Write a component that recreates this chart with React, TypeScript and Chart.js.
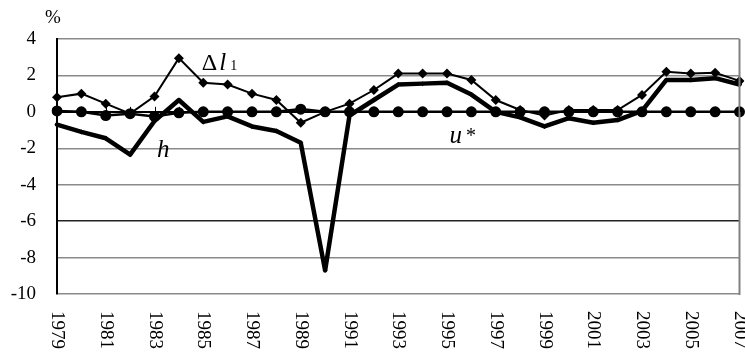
import React, { useEffect, useRef } from "react";
import { Chart, registerables } from "chart.js";

Chart.register(...registerables);

const years = [
  "1979", "1980", "1981", "1982", "1983", "1984", "1985", "1986", "1987", "1988",
  "1989", "1990", "1991", "1992", "1993", "1994", "1995", "1996", "1997", "1998",
  "1999", "2000", "2001", "2002", "2003", "2004", "2005", "2006", "2007",
];
const deltaL1 = [
  0.8, 1.0, 0.45, -0.1, 0.85, 2.95, 1.6, 1.5, 1.0, 0.65, -0.6, 0.0, 0.45, 1.2, 2.1,
  2.1, 2.1, 1.75, 0.65, 0.1, -0.2, 0.1, 0.1, 0.1, 0.93, 2.2, 2.1, 2.15, 1.7,
];
const hValues = [
  -0.7, -1.1, -1.45, -2.35, -0.5, 0.65, -0.55, -0.25, -0.8, -1.05, -1.7, -8.7, -0.2,
  0.65, 1.5, 1.55, 1.6, 0.95, 0.0, -0.3, -0.8, -0.35, -0.6, -0.45, 0.05, 1.75, 1.75,
  1.85, 1.5,
];
const uStar = [
  0.05, 0, -0.2, -0.1, -0.25, -0.05, 0, 0, 0, 0, 0.15, 0, 0, 0, 0, 0, 0, 0, 0, 0, 0,
  0, 0, 0, 0, 0, 0, 0, 0,
];
const yTicks = [4, 2, 0, -2, -4, -6, -8, -10];

const SERIF = "'Liberation Serif', 'Times New Roman', serif";

const decorPlugin = {
  id: "decor",
  afterDatasetsDraw(chart: any) {
    const { ctx, chartArea, scales } = chart;
    const x = scales.x;
    const y = scales.y;
    ctx.save();
    ctx.strokeStyle = "#808080";
    ctx.lineWidth = 2;
    ctx.beginPath();
    ctx.moveTo(chartArea.right, chartArea.top);
    ctx.lineTo(chartArea.right, chartArea.bottom + 1);
    ctx.stroke();
    const y0 = y.getPixelForValue(0);
    ctx.strokeStyle = "#000";
    ctx.lineWidth = 1;
    years.forEach((_, i) => {
      const px = Math.round(x.getPixelForValue(i)) + 0.5;
      ctx.beginPath();
      ctx.moveTo(px, y0 - 5);
      ctx.lineTo(px, y0);
      ctx.stroke();
    });
    ctx.restore();
  },
  afterDraw(chart: any) {
    const { ctx, chartArea, scales } = chart;
    const x = scales.x;
    const y = scales.y;
    ctx.save();
    ctx.fillStyle = "#000";
    ctx.font = `19px ${SERIF}`;
    years.forEach((lab, i) => {
      if (i % 2 !== 0) return;
      const px = x.getPixelForValue(i);
      ctx.save();
      ctx.translate(px, chartArea.bottom + 17);
      ctx.rotate(Math.PI / 2);
      ctx.textAlign = "left";
      ctx.textBaseline = "middle";
      ctx.fillText(lab, 0, 0);
      ctx.restore();
    });
    ctx.font = `19px ${SERIF}`;
    ctx.textAlign = "center";
    ctx.textBaseline = "alphabetic";
    ctx.fillText("%", chartArea.left - 4, chartArea.top - 16);
    ctx.textAlign = "left";
    let lx = x.getPixelForValue(5.94);
    const ly = y.getPixelForValue(2.3);
    ctx.font = `24px ${SERIF}`;
    ctx.fillText("Δ", lx, ly);
    lx += ctx.measureText("Δ").width + 2;
    ctx.font = `italic 25px ${SERIF}`;
    ctx.fillText("l", lx, ly);
    lx += ctx.measureText("l").width + 4;
    ctx.font = `14px ${SERIF}`;
    ctx.fillText("1", lx, ly);
    ctx.font = `italic 25px ${SERIF}`;
    ctx.fillText("h", x.getPixelForValue(4.1), y.getPixelForValue(-2.5));
    const ux = x.getPixelForValue(16.1);
    const uy = y.getPixelForValue(-1.7);
    ctx.font = `italic 25px ${SERIF}`;
    ctx.fillText("u", ux, uy);
    const uw = ctx.measureText("u").width;
    ctx.font = `20px ${SERIF}`;
    ctx.fillText("*", ux + uw + 4, uy - 1);
    ctx.restore();
  },
};

export default function App() {
  const ref = useRef<HTMLCanvasElement | null>(null);
  useEffect(() => {
    if (!ref.current) return;
    const chart = new Chart(ref.current, {
      type: "line",
      data: {
        labels: years,
        datasets: [
          {
            label: "Δl1",
            data: deltaL1,
            borderColor: "#000",
            backgroundColor: "#000",
            borderWidth: 2,
            pointStyle: "rectRot",
            pointRadius: 5,
            pointBorderWidth: 0,
            tension: 0,
          },
          {
            label: "h",
            data: hValues,
            borderColor: "#000",
            backgroundColor: "#000",
            borderWidth: 4.5,
            pointStyle: "rectRot",
            pointRadius: 2.5,
            pointBorderWidth: 0,
            borderJoinStyle: "round",
            borderCapStyle: "round",
            tension: 0,
          },
          {
            label: "u*",
            data: uStar,
            borderColor: "#000",
            backgroundColor: "#000",
            borderWidth: 2.5,
            pointStyle: "circle",
            pointRadius: 5.5,
            pointBorderWidth: 0,
            tension: 0,
          },
        ],
      },
      options: {
        animation: false,
        responsive: false,
        maintainAspectRatio: false,
        layout: { padding: { top: 39, right: 4, left: 0, bottom: 0 } },
        plugins: { legend: { display: false }, tooltip: { enabled: false } },
        scales: {
          x: {
            type: "category",
            offset: false,
            grid: { display: false, drawTicks: false },
            border: { display: false },
            ticks: { display: false },
            afterFit(scale: any) {
              scale.height = 64;
            },
          },
          y: {
            min: -10,
            max: 4,
            afterBuildTicks(scale: any) {
              scale.ticks = yTicks.map((v) => ({ value: v }));
            },
            grid: {
              drawTicks: false,
              color: (c: any) =>
                c.tick && c.tick.value === 0
                  ? "#000"
                  : c.tick && c.tick.value === -6
                  ? "#222"
                  : "#8a8a8a",
              lineWidth: (c: any) => (c.tick && c.tick.value === 0 ? 2 : 1.5),
            },
            border: { display: true, color: "#000", width: 2 },
            ticks: {
              padding: 21,
              color: "#000",
              font: { family: SERIF, size: 19 },
            },
            afterFit(scale: any) {
              scale.width = 57;
            },
          },
        },
      },
      plugins: [decorPlugin],
    });
    return () => chart.destroy();
  }, []);
  return (
    <div style={{ position: "fixed", left: 0, top: 0, width: 745, height: 358, background: "#fff" }}>
      <canvas ref={ref} width={745} height={358} style={{ width: 745, height: 358 }} />
    </div>
  );
}
